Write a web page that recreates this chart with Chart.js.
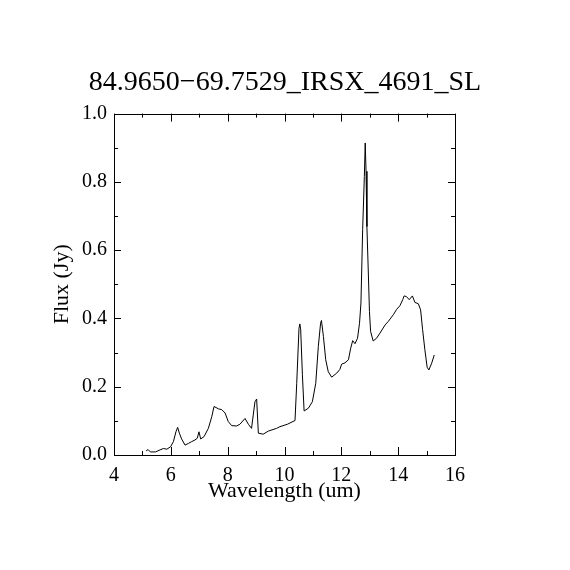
<!DOCTYPE html>
<html>
<head>
<meta charset="utf-8">
<script src="https://cdn.jsdelivr.net/npm/chart.js@4.4.1/dist/chart.umd.min.js"></script>
<style>
  html, body { margin: 0; padding: 0; background: #fff; }
  #wrap { width: 570px; height: 570px; }
</style>
</head>
<body>
<div id="wrap"><canvas id="specChart"></canvas></div>
<script>
// Spectrum
var wavelength = [5.13, 5.20, 5.28, 5.46, 5.62, 5.74, 5.86, 5.99, 6.09, 6.18, 6.24, 6.30, 6.38, 6.50,
    6.62, 6.73, 6.85, 6.93, 6.99, 7.05, 7.17, 7.32, 7.44, 7.52, 7.59, 7.68, 7.79, 7.91, 8.02, 8.14,
    8.31, 8.43, 8.61, 8.73, 8.84, 8.90, 8.96, 9.02, 9.08, 9.25, 9.43, 9.72, 9.84, 10.10, 10.37, 10.43,
    10.51, 10.54, 10.57, 10.63, 10.69, 10.84, 10.98, 11.10, 11.19, 11.27, 11.30, 11.37, 11.45, 11.54,
    11.66, 11.84, 11.95, 12.01, 12.13, 12.25, 12.33, 12.40, 12.48, 12.57, 12.64, 12.69, 12.75, 12.81,
    12.84, 12.87, 12.90, 12.95, 12.99, 13.03, 13.12, 13.24, 13.36, 13.54, 13.65, 13.83, 13.95, 14.06,
    14.16, 14.21, 14.29, 14.39, 14.50, 14.59, 14.71, 14.79, 14.86, 14.94, 15.02, 15.08, 15.18, 15.27];
var flux = [0.012, 0.016, 0.009, 0.009, 0.015, 0.019, 0.017, 0.024, 0.039, 0.068, 0.081, 0.064, 0.047, 0.029,
    0.034, 0.039, 0.044, 0.049, 0.068, 0.047, 0.054, 0.078, 0.112, 0.142, 0.139, 0.135, 0.133, 0.123, 0.098, 0.086,
    0.085, 0.090, 0.107, 0.090, 0.078, 0.117, 0.156, 0.164, 0.064, 0.061, 0.070, 0.078, 0.083, 0.090, 0.101, 0.210,
    0.371, 0.384, 0.367, 0.235, 0.129, 0.137, 0.156, 0.210, 0.318, 0.386, 0.394, 0.347, 0.279, 0.244,
    0.228, 0.240, 0.251, 0.266, 0.270, 0.279, 0.313, 0.335, 0.326, 0.342, 0.386, 0.445, 0.660, 0.816,
    0.914, 0.831, 0.669, 0.533, 0.420, 0.362, 0.334, 0.342, 0.357, 0.381, 0.391, 0.411, 0.427, 0.437,
    0.455, 0.466, 0.464, 0.455, 0.466, 0.447, 0.443, 0.425, 0.367, 0.308, 0.257, 0.249, 0.269, 0.293];

var xMajor = [4, 6, 8, 10, 12, 14, 16];
var xMinor = [5, 7, 9, 11, 13, 15];
var yMajor = [0.0, 0.2, 0.4, 0.6, 0.8, 1.0];
var yMinor = [0.1, 0.3, 0.5, 0.7, 0.9];

var serif = "'Liberation Serif', 'DejaVu Serif', serif";

// box around the plot with inward ticks on all four sides
var frameTicks = {
    id: 'frameTicks',
    afterDraw: function(chart) {
        var ctx = chart.ctx, a = chart.chartArea;
        var xs = chart.scales.x, ys = chart.scales.y;
        ctx.save();
        ctx.strokeStyle = '#000';
        ctx.lineWidth = 1;
        ctx.strokeRect(Math.round(a.left) + 0.5, Math.round(a.top) + 0.5,
            Math.round(a.right - a.left), Math.round(a.bottom - a.top));
        ctx.beginPath();
        function xt(v, len) {
            var p = Math.round(xs.getPixelForValue(v)) + 0.5;
            ctx.moveTo(p, a.bottom); ctx.lineTo(p, a.bottom - len);
            ctx.moveTo(p, a.top); ctx.lineTo(p, a.top + len);
        }
        function yt(v, len) {
            var p = Math.round(ys.getPixelForValue(v)) + 0.5;
            ctx.moveTo(a.left, p); ctx.lineTo(a.left + len, p);
            ctx.moveTo(a.right, p); ctx.lineTo(a.right - len, p);
        }
        xMajor.forEach(function(v) { xt(v, 8); });
        xMinor.forEach(function(v) { xt(v, 4); });
        yMajor.forEach(function(v) { yt(v, 7); });
        yMinor.forEach(function(v) { yt(v, 4); });
        ctx.stroke();
        ctx.restore();
    }
};

var ctx = document.getElementById('specChart');
new Chart(ctx, {
    type: 'scatter',
    data: {
        datasets: [{
            data: wavelength.map(function(w, i) { return {x: w, y: flux[i]}; }),
            showLine: true,
            borderColor: '#000',
            borderWidth: 1,
            pointRadius: 0,
            tension: 0
        }]
    },
    options: {
        responsive: true,
        maintainAspectRatio: false,
        animation: false,
        layout: { padding: 0 },
        scales: {
            x: {
                type: 'linear',
                min: 4,
                max: 16,
                afterFit: function(s) { s.height = 115; },
                afterBuildTicks: function(s) { s.ticks = xMajor.map(function(v) { return {value: v}; }); },
                grid: { display: true, drawOnChartArea: false, drawTicks: false },
                border: { display: false },
                ticks: {
                    padding: 9,
                    color: '#000',
                    maxRotation: 0,
                    font: { family: serif, size: 20 }
                },
                title: {
                    display: true,
                    text: 'Wavelength (um)',
                    color: '#000',
                    font: { family: serif, size: 22 },
                    padding: { top: 0, bottom: 66 }
                }
            },
            y: {
                type: 'linear',
                min: 0,
                max: 1,
                afterFit: function(s) { s.width = 114; },
                afterBuildTicks: function(s) { s.ticks = yMajor.map(function(v) { return {value: v}; }); },
                grid: { display: true, drawOnChartArea: false, drawTicks: false },
                border: { display: false },
                ticks: {
                    padding: 7,
                    color: '#000',
                    font: { family: serif, size: 20 },
                    callback: function(v) { return v.toFixed(1); }
                },
                title: {
                    display: true,
                    text: 'Flux (Jy)',
                    color: '#000',
                    font: { family: serif, size: 22 },
                    padding: { top: 49, bottom: 0 }
                }
            },
            // empty right-hand axis only reserves the margin
            yRight: {
                type: 'linear',
                position: 'right',
                min: 0,
                max: 1,
                afterFit: function(s) { s.width = 115; },
                grid: { display: false },
                border: { display: false },
                ticks: { display: false }
            }
        },
        plugins: {
            legend: { display: false },
            tooltip: { enabled: false },
            title: {
                display: true,
                text: '84.9650\u221269.7529_IRSX_4691_SL',
                color: '#000',
                font: { family: serif, size: 28, weight: 'normal' },
                padding: { top: 66, bottom: 14 }
            }
        }
    },
    plugins: [frameTicks]
});
</script>
</body>
</html>
